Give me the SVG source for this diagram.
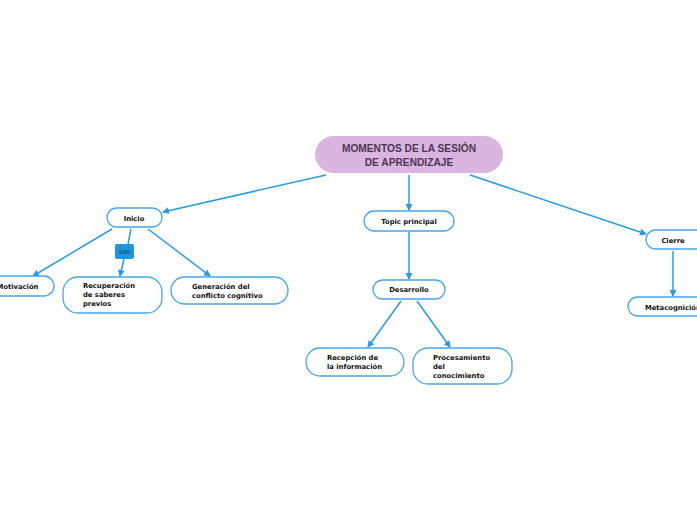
<svg xmlns="http://www.w3.org/2000/svg" width="697" height="520" viewBox="0 0 697 520">
<defs>
<marker id="ah" markerWidth="8" markerHeight="8" refX="6" refY="4" orient="auto" markerUnits="userSpaceOnUse">
<path d="M0,0.5 L7,4 L0,7.5 Z" fill="#2a9be2"/>
</marker>
<style>
.n{fill:#fff;stroke:#45a6ec;stroke-width:1.3}
.t{font-family:"DejaVu Sans",Verdana,sans-serif;font-weight:bold;font-size:6.8px;fill:#111}
.c{stroke:#2a9be2;stroke-width:1.5;fill:none;marker-end:url(#ah)}
.r{font-family:"Liberation Sans",Arial,sans-serif;font-weight:bold;font-size:10.2px;fill:#4e3556}
</style>
</defs>
<rect width="697" height="520" fill="#fff"/>
<g id="connectors">
<line class="c" x1="326" y1="175" x2="163" y2="212"/>
<line class="c" x1="409" y1="175" x2="409" y2="210"/>
<line class="c" x1="470" y1="175" x2="646" y2="234"/>
<line class="c" x1="112" y1="229" x2="33" y2="276"/>
<line x1="131" y1="229" x2="128" y2="244" stroke="#2a9be2" stroke-width="1.5"/>
<line class="c" x1="124" y1="259" x2="120" y2="276"/>
<line class="c" x1="148" y1="229" x2="210" y2="276"/>
<line class="c" x1="409" y1="232" x2="409" y2="279"/>
<line class="c" x1="401" y1="301" x2="368" y2="347"/>
<line class="c" x1="417" y1="301" x2="450" y2="347"/>
<line class="c" x1="673" y1="251" x2="673" y2="296"/>
</g>
<g id="root">
<rect x="315" y="136" width="188" height="37" rx="18.5" fill="#d9b5e0"/>
<text class="r" x="409" y="152" text-anchor="middle">MOMENTOS DE LA SESIÓN</text>
<text class="r" x="409" y="166" text-anchor="middle">DE APRENDIZAJE</text>
</g>
<g id="inicio">
<rect class="n" x="107" y="208" width="55" height="19" rx="9.5"/>
<text class="t" x="134" y="220.5" text-anchor="middle">Inicio</text>
</g>
<g id="son">
<rect x="115" y="244" width="19" height="15" rx="2" fill="#1f95df"/>
<text x="124.5" y="254" text-anchor="middle" font-family="DejaVu Sans,sans-serif" font-size="6.5px" fill="#1a3550">son</text>
</g>
<g id="motivacion">
<rect class="n" x="-14" y="276" width="68" height="20" rx="10"/>
<text class="t" x="-3.5" y="288.5">Motivación</text>
</g>
<g id="recuperacion">
<rect class="n" x="63" y="277" width="99" height="36" rx="15"/>
<text class="t" x="83" y="288">Recuperación</text>
<text class="t" x="83" y="297">de saberes</text>
<text class="t" x="83" y="306">previos</text>
</g>
<g id="generacion">
<rect class="n" x="171" y="277" width="117" height="27" rx="13.5"/>
<text class="t" x="192" y="288.5">Generación del</text>
<text class="t" x="192" y="297.5">conflicto cognitivo</text>
</g>
<g id="topic">
<rect class="n" x="364" y="211" width="90" height="20" rx="10"/>
<text class="t" x="409" y="223.5" text-anchor="middle">Topic principal</text>
</g>
<g id="desarrollo">
<rect class="n" x="373" y="280" width="72" height="19" rx="9.5"/>
<text class="t" x="409" y="292" text-anchor="middle">Desarrollo</text>
</g>
<g id="recepcion">
<rect class="n" x="306" y="348" width="98" height="28" rx="14"/>
<text class="t" x="327" y="360">Recepción de</text>
<text class="t" x="327" y="369">la información</text>
</g>
<g id="procesamiento">
<rect class="n" x="413" y="348" width="99" height="36" rx="15"/>
<text class="t" x="433" y="360">Procesamiento</text>
<text class="t" x="433" y="369">del</text>
<text class="t" x="433" y="378">conocimiento</text>
</g>
<g id="cierre">
<rect class="n" x="646" y="230" width="60" height="19" rx="9.5"/>
<text class="t" x="673" y="242.5" text-anchor="middle">Cierre</text>
</g>
<g id="metacognicion">
<rect class="n" x="628" y="297" width="85" height="19" rx="9.5"/>
<text class="t" x="645" y="309.5">Metacognición</text>
</g>
</svg>
